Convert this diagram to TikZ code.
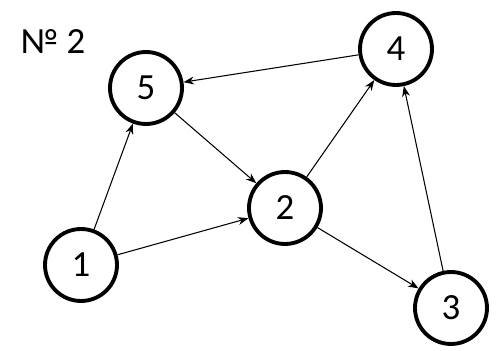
\documentclass[tikz,border=0pt]{standalone}
\usepackage{fontspec}
\setmainfont{Carlito}
\usetikzlibrary{arrows.meta}

\begin{document}
\begin{tikzpicture}[x=0.02cm, y=-0.02cm, >={Stealth[length=6pt, width=4.5pt]},
    vertex/.style={draw, circle, line width=2.2pt, minimum size=1.44cm, inner sep=0pt, font=\fontsize{21}{25}\selectfont},
    edge/.style={->, line width=0.6pt}]
  \useasboundingbox (0,0) rectangle (498,351);
  \node[font=\fontsize{21}{25}\selectfont] (title) at (53,42) {№ 2};
  \node[vertex] (n5) at (146,88) {5};
  \node[vertex] (n4) at (396,49) {4};
  \node[vertex] (n2) at (285,208) {2};
  \node[vertex] (n1) at (81,265) {1};
  \node[vertex] (n3) at (451,308) {3};
  \draw[edge] (n4) -- (n5);
  \draw[edge] (n5) -- (n2);
  \draw[edge] (n1) -- (n5);
  \draw[edge] (n1) -- (n2);
  \draw[edge] (n2) -- (n4);
  \draw[edge] (n2) -- (n3);
  \draw[edge] (n3) -- (n4);
\end{tikzpicture}
\end{document}
